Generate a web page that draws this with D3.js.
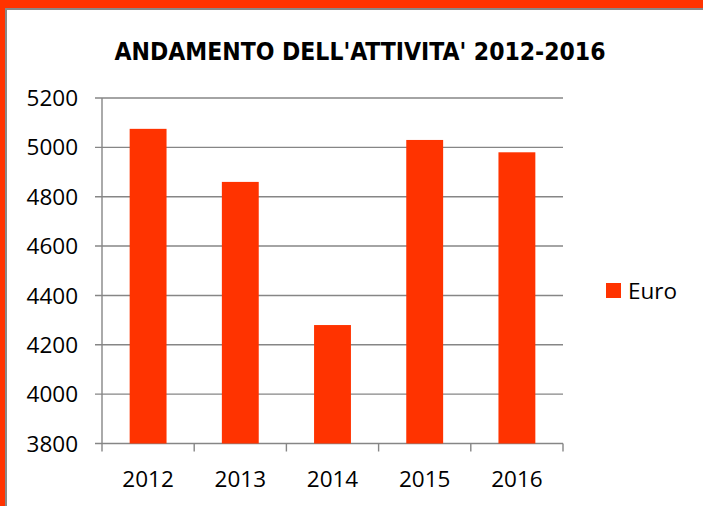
<!DOCTYPE html>
<html><head><meta charset="utf-8">
<script src="https://cdn.jsdelivr.net/npm/d3@7"></script>
<style>
html,body{margin:0;padding:0;background:#fff;}
svg{display:block;}
text{font-family:"Open Sans",sans-serif;fill:#000;}
</style></head>
<body>
<script>
const categories = ["2012","2013","2014","2015","2016"];
const values = [5075, 4860, 4280, 5030, 4980];
const yTicks = [3800,4000,4200,4400,4600,4800,5000,5200];
const seriesName = "Euro";
const title = "ANDAMENTO DELL'ATTIVITA' 2012-2016";

(function(){
const W = 703, H = 506;
const svg = d3.select("body").append("svg").attr("width", W).attr("height", H);
const orange = "#FF3300";

svg.append("rect").attr("x",0).attr("y",0).attr("width",W).attr("height",H).attr("fill",orange);
svg.append("rect").attr("x",5).attr("y",8).attr("width",W-5).attr("height",H-8).attr("fill","#888");
svg.append("rect").attr("x",7).attr("y",10).attr("width",W-7).attr("height",H-10).attr("fill","#fff");

svg.append("text").attr("x",360).attr("y",59.5).attr("text-anchor","middle")
  .style("font-family","'Liberation Sans Narrow','DejaVu Sans Condensed',sans-serif")
  .attr("font-size",24.5).attr("font-weight","bold")
  .attr("textLength",491).attr("lengthAdjust","spacingAndGlyphs")
  .text(title);

const pLeft = 102, pRight = 563, pTop = 98, pBottom = 443.5;
const x = d3.scaleBand().domain(categories).range([pLeft,pRight]).paddingInner(0.6).paddingOuter(0.3);
const y = d3.scaleLinear().domain([3800,5200]).range([pBottom, pTop]);

const grid = "#868686";
svg.append("g").selectAll("line").data(yTicks).join("line")
  .attr("x1",95).attr("x2",pRight).attr("y1",d=>y(d)).attr("y2",d=>y(d))
  .attr("stroke",grid).attr("stroke-width",1.4);

svg.append("g").selectAll("rect").data(values).join("rect")
  .attr("x",(d,i)=>x(categories[i])).attr("width",x.bandwidth())
  .attr("y",d=>y(d)).attr("height",d=>pBottom-y(d))
  .attr("fill",orange);

svg.append("line").attr("x1",pLeft).attr("x2",pLeft).attr("y1",pTop).attr("y2",pBottom)
  .attr("stroke",grid).attr("stroke-width",1.4);
const step = (pRight-pLeft)/categories.length;
svg.append("g").selectAll("line").data(d3.range(categories.length+1)).join("line")
  .attr("x1",i=>pLeft+i*step).attr("x2",i=>pLeft+i*step).attr("y1",pBottom).attr("y2",pBottom+8)
  .attr("stroke",grid).attr("stroke-width",1.4);

svg.append("g").selectAll("text").data(yTicks).join("text")
  .attr("x",78).attr("y",d=>y(d)).attr("dy","0.36em").attr("text-anchor","end")
  .attr("font-size",22.5).text(d=>d);

svg.append("g").selectAll("text").data(categories).join("text")
  .attr("x",d=>x(d)+x.bandwidth()/2).attr("y",487).attr("text-anchor","middle")
  .attr("font-size",22.5).text(d=>d);

svg.append("rect").attr("x",606).attr("y",283).attr("width",15).attr("height",15).attr("fill",orange);
svg.append("text").attr("x",628).attr("y",290.5).attr("dy","0.36em").attr("font-size",22.5).text(seriesName);
})();
</script>
</body></html>
